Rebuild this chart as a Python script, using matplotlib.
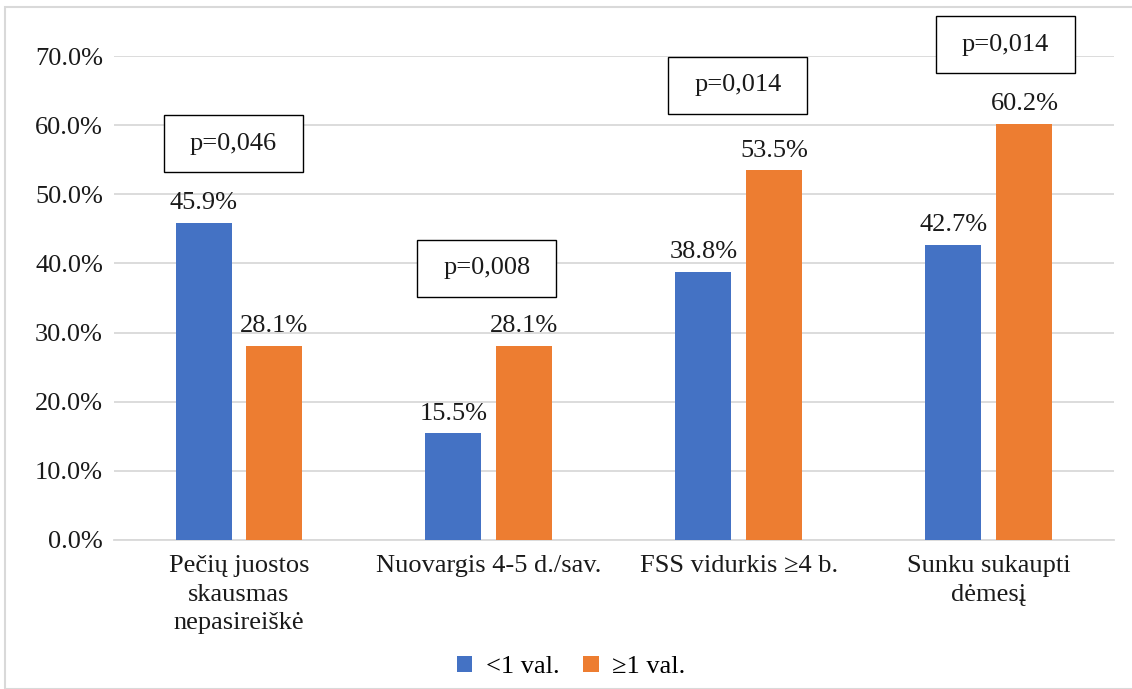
import matplotlib
matplotlib.use("Agg")
import matplotlib.pyplot as plt
from matplotlib.patches import Rectangle
import numpy as np

categories = ["Pečių juostos\nskausmas\nnepasireiškė", "Nuovargis 4-5 d./sav.",
              "FSS vidurkis ≥4 b.", "Sunku sukaupti\ndėmesį"]
series_names = ["<1 val.", "≥1 val."]
less_1 = [45.9, 15.5, 38.8, 42.7]
more_1 = [28.1, 28.1, 53.5, 60.2]
p_labels = ["p=0,046", "p=0,008", "p=0,014", "p=0,014"]
p_y = [57.3, 39.3, 65.8, 71.6]
p_dx = [-0.022, -0.008, -0.004, 0.066]
yticks = [0, 10, 20, 30, 40, 50, 60, 70]

plt.rcParams['font.family'] = ['Liberation Serif', 'DejaVu Serif']
FS = 19

fig = plt.figure(figsize=(11.32, 6.89), dpi=100)
ax = fig.add_axes([114/1132, 1-540/689, 1000/1132, 484/689])

x = np.arange(len(categories))
w = 0.224
off = 0.142
b1 = ax.bar(x - off, less_1, w, color="#4472C4", label=series_names[0], zorder=3)
b2 = ax.bar(x + off, more_1, w, color="#ED7D31", label=series_names[1], zorder=3)
for bars, vals in ((b1, less_1), (b2, more_1)):
    for b, v in zip(bars, vals):
        ax.text(b.get_x() + b.get_width()/2, v + 1.2, f"{v:.1f}%", ha="center",
                va="bottom", fontsize=FS, color="#1a1a1a")

ax.set_xlim(-0.5, 3.5)
ax.set_ylim(0, 70)
ax.set_yticks(yticks)
ax.set_yticklabels([f"{t:.1f}%" for t in yticks], fontsize=FS, color="#1a1a1a")
ax.set_xticks(x)
ax.set_xticklabels(categories, fontsize=FS, color="#1a1a1a", linespacing=1.38)
ax.tick_params(axis="both", length=0, pad=8)
ax.tick_params(axis="x", pad=11)
ax.grid(axis="y", color="#d9d9d9", linewidth=1.3, zorder=0)
for s in ("top", "right", "left"):
    ax.spines[s].set_visible(False)
ax.spines["bottom"].set_color("#d9d9d9")
ax.spines["bottom"].set_linewidth(1.3)

bw = 139/250
bh = 57/484*70
for xi, dx, lab, py in zip(x, p_dx, p_labels, p_y):
    cx = xi + dx
    ax.add_patch(Rectangle((cx - bw/2, py - bh/2), bw, bh, fc="white", ec="black",
                           lw=1.0, clip_on=False, zorder=5))
    ax.text(cx, py, lab, ha="center", va="center", fontsize=FS, color="#1a1a1a",
            clip_on=False, zorder=6)

# outer border
fig.patches.append(Rectangle((5/1132, 0), 1 - 5/1132 + 0.01, 1 - 7/689,
                             transform=fig.transFigure, fill=False,
                             ec="#d9d9d9", lw=1.5))

fig.legend(handles=[b1, b2], labels=series_names, loc="center",
           bbox_to_anchor=(571/1132, 1 - 667/689), ncol=2, frameon=False,
           fontsize=FS, handlelength=0.6, handleheight=0.6, handletextpad=0.5,
           columnspacing=0.9)

fig.savefig("out.png", dpi=100)
